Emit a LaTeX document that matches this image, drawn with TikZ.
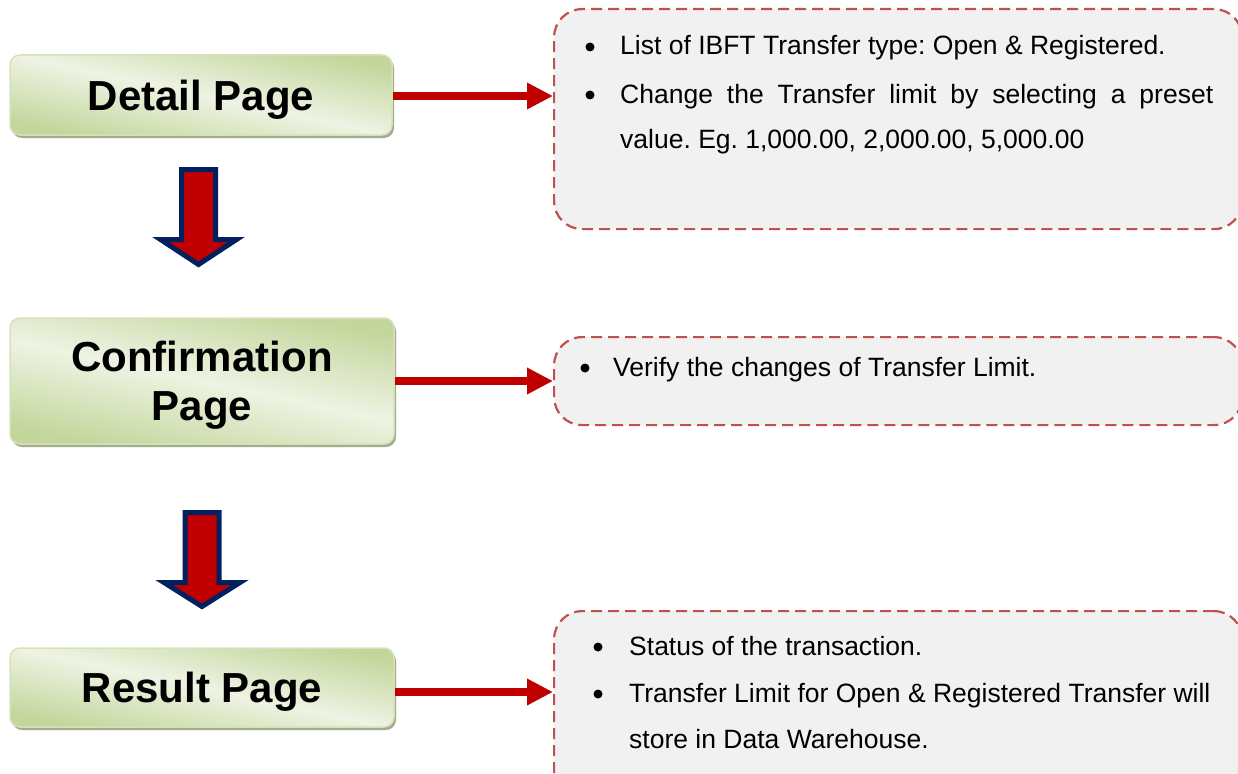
\documentclass[tikz,border=0pt]{standalone}
\usepackage{fontspec}
\setmainfont{Liberation Sans}
\usetikzlibrary{calc,shadows,arrows.meta}
\definecolor{boxred}{HTML}{C0504D}
\definecolor{arrred}{HTML}{C00000}
\definecolor{navy}{HTML}{002060}
\definecolor{gdark}{HTML}{C3D69B}
\definecolor{glight}{HTML}{EBF1DE}
\definecolor{gshadow}{HTML}{A4AC8E}
\definecolor{notefill}{HTML}{F1F1F1}
\frenchspacing
\begin{document}
\begin{tikzpicture}[x=1pt,y=-1pt,
  pagebox/.style={rounded corners=10pt, draw=gdark!70!white, line width=1.5pt,
    top color=gdark, bottom color=gdark, middle color=glight!85!white,
    shading angle=-12, minimum width=382pt, inner sep=0pt, align=center,
    text depth=0pt,
    font=\fontsize{42}{49}\selectfont\bfseries,
    drop shadow={shadow xshift=2pt, shadow yshift=-3pt, fill=gshadow, opacity=1}},
  notebox/.style={rounded corners=28pt, draw=boxred, line width=2.2pt,
    dash pattern=on 11pt off 6pt, fill=notefill, anchor=north west,
    inner sep=0pt, minimum width=688pt},
  txt/.style={anchor=base west, inner sep=0pt, font=\fontsize{26.5}{30}\selectfont\frenchspacing},
  bul/.style={circle, fill=black, inner sep=0pt, minimum size=9pt},
  rarrow/.style={draw=arrred, line width=8.5pt, -{Triangle[length=26pt,width=25pt]}, shorten >=0pt},
  darrow/.style={draw=navy, line width=5pt, fill=arrred, line join=miter, miter limit=10}
]
\useasboundingbox (0,0) rectangle (1238,773);

% page boxes
\node[pagebox, minimum height=80pt, minimum width=382pt] (detail) at (201,95) {Detail Page};
\node[pagebox, minimum height=126pt, minimum width=384pt] (confirm) at (202,381) {Confirmation\\Page};
\node[pagebox, minimum height=79pt, minimum width=384pt] (result) at (202,687.5) {Result Page};

% note boxes
\node[notebox, minimum height=220pt] (n1) at (553,8) {};
\node[notebox, minimum height=88pt] (n2) at (553,336) {};
\node[notebox, minimum height=200pt] (n3) at (553,610) {};

% note texts
\node[bul] (b11) at (590,47) {};
\node[txt] (t11) at (620,55) {List of IBFT Transfer type: Open \& Registered.};
\node[bul] (b12) at (590,95) {};
\node[txt] (t12) at (620,103) {\hbox to 593pt{Change\hfill the\hfill Transfer\hfill limit\hfill by\hfill selecting\hfill a\hfill preset}};
\node[txt] (t13) at (620,148) {value. Eg. 1,000.00, 2,000.00, 5,000.00};

\node[bul] (b21) at (585,368) {};
\node[txt] (t21) at (613,376) {Verify the changes of Transfer Limit.};

\node[bul] (b31) at (598,647) {};
\node[txt] (t31) at (629,655) {Status of the transaction.};
\node[bul] (b32) at (598,694) {};
\node[txt] (t32) at (629,702) {Transfer Limit for Open \& Registered Transfer will};
\node[txt] (t33) at (629,748) {store in Data Warehouse.};

% horizontal arrows
\draw[rarrow] ($(detail.east)+(0,1)$) -- (n1.west |- 0,96);
\draw[rarrow] (confirm.east) -- (n2.west |- confirm.east);
\draw[rarrow] ($(result.east)+(0,4.5)$) -- (n3.west |- 0,692);

% down block arrows
\coordinate (a1) at (198.5,169.5);
\draw[darrow] ($(a1)+(-17,0)$) -- ($(a1)+(17,0)$) -- ($(a1)+(17,70)$) -- ($(a1)+(38,70)$)
  -- ($(a1)+(0,95)$) -- ($(a1)+(-38,70)$) -- ($(a1)+(-17,70)$) -- cycle;
\coordinate (a2) at (202,512.5);
\draw[darrow] ($(a2)+(-17,0)$) -- ($(a2)+(17,0)$) -- ($(a2)+(17,70)$) -- ($(a2)+(38,70)$)
  -- ($(a2)+(0,94)$) -- ($(a2)+(-38,70)$) -- ($(a2)+(-17,70)$) -- cycle;
\end{tikzpicture}
\end{document}
